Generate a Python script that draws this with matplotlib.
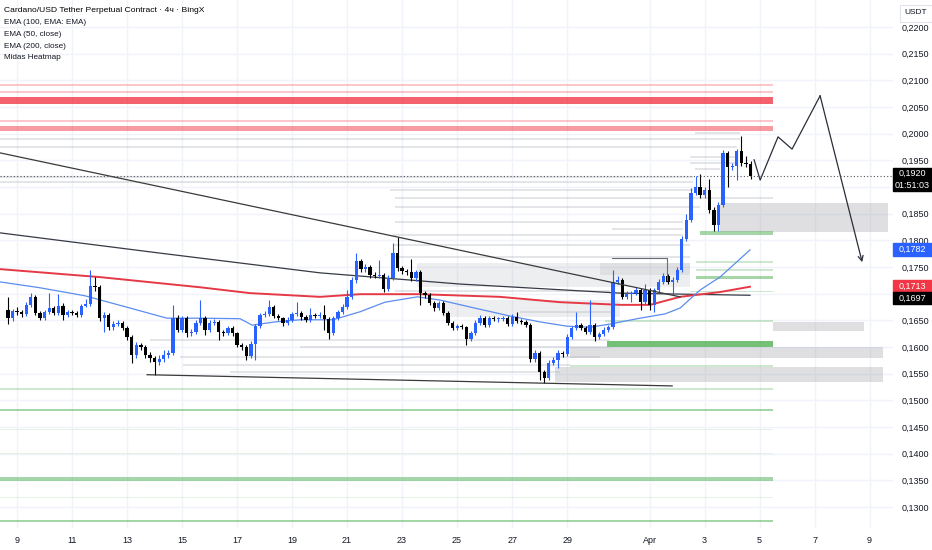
import numpy as np
import matplotlib.pyplot as plt
from matplotlib.patches import Rectangle

plt.rcParams['font.family'] = ['Liberation Sans Narrow', 'Liberation Sans', 'DejaVu Sans']

# ---- ADA/USDT 4h candles (days counted from Mar 9 00:00) ----
first_open = 0.1669
closes = [0.1654, 0.1667, 0.1666, 0.1662, 0.1679, 0.1694, 0.1664, 0.1654, 0.1666, 0.1673,
          0.1664, 0.1677, 0.1660, 0.1666, 0.1664, 0.1660, 0.1677, 0.1681, 0.1714, 0.1713,
          0.1654, 0.1660, 0.1637, 0.1643, 0.1645, 0.1636, 0.1619, 0.1585, 0.1604, 0.1600,
          0.1585, 0.1579, 0.1572, 0.1577, 0.1585, 0.1589, 0.1654, 0.1632, 0.1654, 0.1626,
          0.1628, 0.1645, 0.1654, 0.1632, 0.1645, 0.1647, 0.1628, 0.1626, 0.1636, 0.1626,
          0.1604, 0.1600, 0.1583, 0.1606, 0.1639, 0.1660, 0.1662, 0.1675, 0.1658, 0.1654,
          0.1645, 0.1651, 0.1662, 0.1664, 0.1656, 0.1651, 0.1660, 0.1658, 0.1660, 0.1653,
          0.1626, 0.1654, 0.1666, 0.1675, 0.1694, 0.1726, 0.1761, 0.1746, 0.1750, 0.1735,
          0.1733, 0.1735, 0.1709, 0.1729, 0.1776, 0.1748, 0.1742, 0.1741, 0.1729, 0.1741,
          0.1701, 0.1698, 0.1683, 0.1673, 0.1683, 0.1664, 0.1645, 0.1636, 0.1639, 0.1637,
          0.1615, 0.1626, 0.1645, 0.1654, 0.1641, 0.1654, 0.1653, 0.1653, 0.1654, 0.1643,
          0.1656, 0.1649, 0.1647, 0.1641, 0.1577, 0.1589, 0.1553, 0.1542, 0.1570, 0.1576,
          0.1589, 0.1587, 0.1619, 0.1636, 0.1641, 0.1636, 0.1628, 0.1641, 0.1619, 0.1624,
          0.1632, 0.1637, 0.1722, 0.1726, 0.1694, 0.1699, 0.1701, 0.1707, 0.1684, 0.1707,
          0.1679, 0.1707, 0.1722, 0.1733, 0.1722, 0.1726, 0.1744, 0.1803, 0.1838, 0.1889,
          0.1900, 0.1885, 0.1894, 0.1857, 0.1829, 0.1866, 0.1964, 0.1937, 0.1939, 0.1967,
          0.1945, 0.1943, 0.1920]
highs = [0.1694, 0.1672, 0.1675, 0.1670, 0.1685, 0.1701, 0.1697, 0.1668, 0.1670, 0.1701,
         0.1677, 0.1699, 0.1682, 0.1670, 0.1669, 0.1668, 0.1681, 0.1690, 0.1745, 0.1731,
         0.1716, 0.1665, 0.1663, 0.1648, 0.1650, 0.1649, 0.1640, 0.1622, 0.1610, 0.1607,
         0.1604, 0.1590, 0.1583, 0.1585, 0.1595, 0.1594, 0.1679, 0.1660, 0.1659, 0.1658,
         0.1633, 0.1650, 0.1688, 0.1658, 0.1650, 0.1652, 0.1650, 0.1632, 0.1640, 0.1640,
         0.1628, 0.1608, 0.1603, 0.1611, 0.1643, 0.1664, 0.1667, 0.1688, 0.1679, 0.1662,
         0.1657, 0.1656, 0.1666, 0.1684, 0.1668, 0.1660, 0.1673, 0.1664, 0.1665, 0.1679,
         0.1656, 0.1658, 0.1670, 0.1680, 0.1707, 0.1731, 0.1776, 0.1765, 0.1756, 0.1754,
         0.1740, 0.1763, 0.1739, 0.1735, 0.1795, 0.1806, 0.1752, 0.1746, 0.1765, 0.1745,
         0.1745, 0.1705, 0.1701, 0.1686, 0.1687, 0.1686, 0.1667, 0.1648, 0.1643, 0.1643,
         0.1640, 0.1630, 0.1650, 0.1660, 0.1658, 0.1659, 0.1658, 0.1657, 0.1659, 0.1658,
         0.1661, 0.1665, 0.1652, 0.1650, 0.1645, 0.1594, 0.1592, 0.1557, 0.1575, 0.1581,
         0.1594, 0.1592, 0.1624, 0.1640, 0.1666, 0.1645, 0.1640, 0.1688, 0.1645, 0.1628,
         0.1637, 0.1641, 0.1744, 0.1733, 0.1730, 0.1705, 0.1705, 0.1712, 0.1711, 0.1718,
         0.1711, 0.1711, 0.1727, 0.1738, 0.1737, 0.1731, 0.1750, 0.1808, 0.1850, 0.1899,
         0.1920, 0.1925, 0.1900, 0.1915, 0.1862, 0.1872, 0.1970, 0.1968, 0.1945, 0.1972,
         0.1996, 0.1958, 0.1948]
lows = [0.1644, 0.1649, 0.1660, 0.1656, 0.1658, 0.1675, 0.1660, 0.1650, 0.1650, 0.1662,
        0.1660, 0.1660, 0.1651, 0.1656, 0.1660, 0.1656, 0.1656, 0.1675, 0.1677, 0.1705,
        0.1649, 0.1628, 0.1632, 0.1632, 0.1639, 0.1632, 0.1613, 0.1570, 0.1580, 0.1595,
        0.1580, 0.1572, 0.1547, 0.1566, 0.1572, 0.1580, 0.1585, 0.1628, 0.1628, 0.1619,
        0.1620, 0.1624, 0.1641, 0.1622, 0.1628, 0.1641, 0.1613, 0.1620, 0.1622, 0.1620,
        0.1600, 0.1594, 0.1576, 0.1579, 0.1576, 0.1635, 0.1656, 0.1658, 0.1654, 0.1650,
        0.1640, 0.1641, 0.1647, 0.1658, 0.1651, 0.1647, 0.1647, 0.1654, 0.1654, 0.1632,
        0.1615, 0.1622, 0.1650, 0.1662, 0.1671, 0.1690, 0.1720, 0.1740, 0.1741, 0.1730,
        0.1729, 0.1729, 0.1704, 0.1705, 0.1725, 0.1742, 0.1737, 0.1735, 0.1724, 0.1724,
        0.1679, 0.1692, 0.1679, 0.1668, 0.1669, 0.1660, 0.1641, 0.1632, 0.1632, 0.1633,
        0.1604, 0.1611, 0.1622, 0.1641, 0.1637, 0.1637, 0.1649, 0.1647, 0.1649, 0.1639,
        0.1639, 0.1645, 0.1643, 0.1637, 0.1572, 0.1572, 0.1538, 0.1533, 0.1538, 0.1566,
        0.1560, 0.1582, 0.1583, 0.1615, 0.1632, 0.1632, 0.1624, 0.1624, 0.1611, 0.1615,
        0.1620, 0.1628, 0.1633, 0.1718, 0.1690, 0.1690, 0.1684, 0.1697, 0.1669, 0.1680,
        0.1669, 0.1665, 0.1703, 0.1718, 0.1718, 0.1697, 0.1722, 0.1740, 0.1799, 0.1834,
        0.1885, 0.1880, 0.1880, 0.1852, 0.1817, 0.1817, 0.1862, 0.1900, 0.1932, 0.1914,
        0.1940, 0.1938, 0.1915]
last_candle_day = 26.67      # Apr 4, 16:00
last_price = 0.1920

# ---- indicator lines (day, price) ----
ema50_d = [-0.62, 0.84, 2.47, 4.11, 5.45, 6.65, 8.11, 8.55, 9.38, 10.29, 11.49, 12.47, 13.38,
           14.55, 15.38, 16.47, 17.93, 19.02, 20.00, 20.84, 21.56, 22.65, 23.56, 24.11, 24.84,
           25.56, 26.65]
ema50_p = [0.1722, 0.1711, 0.1696, 0.1673, 0.1654, 0.1654, 0.1653, 0.1641, 0.1647, 0.1651,
           0.1651, 0.1666, 0.1684, 0.1694, 0.1688, 0.1675, 0.1658, 0.1647, 0.1639, 0.1637,
           0.1643, 0.1654, 0.1662, 0.1673, 0.1707, 0.1731, 0.1782]
ema200_d = [-0.62, 3.02, 6.65, 8.47, 11.02, 12.47, 14.65, 17.56, 19.75, 21.93, 23.02, 24.11,
            25.56, 26.65]
ema200_p = [0.1746, 0.1731, 0.1712, 0.1701, 0.1694, 0.1699, 0.1699, 0.1694, 0.1684, 0.1679,
            0.1679, 0.1694, 0.1703, 0.1713]
ema100_d = [-0.62, 5.20, 11.02, 16.11, 21.93, 26.65]
ema100_p = [0.1814, 0.1776, 0.1739, 0.1718, 0.1701, 0.1697]

# drawings
trend_hi_d = [-0.62, 24.11]
trend_hi_p = [0.1964, 0.1694]
trend_lo_d = [4.73, 23.82]
trend_lo_p = [0.1548, 0.1527]
path_d = [26.80, 27.02, 27.67, 28.18, 29.20, 30.73]
path_p = [0.1951, 0.1913, 0.1994, 0.1971, 0.2071, 0.1759]
marker_d = [21.64, 23.64, 23.64]
marker_p = [0.1767, 0.1767, 0.1726]

# ---- Midas heatmap levels ----
heat_end = 27.49
red_lo = [0.2089, 0.2076, 0.2056, 0.2022, 0.2005]
red_hi = [0.2093, 0.2080, 0.2069, 0.2026, 0.2014]
red_strength = ['weak', 'weak', 'strong', 'weak', 'medium']
green_lo = [0.1810, 0.1758, 0.1743, 0.1728, 0.1703, 0.1647, 0.1600, 0.1563,
            0.1520, 0.1480, 0.1444, 0.1400, 0.1349, 0.1316, 0.1272]
green_hi = [0.1818, 0.1762, 0.1746, 0.1733, 0.1705, 0.1651, 0.1611, 0.1566,
            0.1523, 0.1484, 0.1446, 0.1402, 0.1356, 0.1318, 0.1276]
green_start = [24.84, 24.69, 24.69, 24.69, 24.47, 21.38, 21.45, 20.11,
               -1, -1, -1, -1, -1, -1, -1]
green_strength = ['medium', 'weak', 'weak', 'medium', 'weak', 'weak', 'strong', 'weak',
                  'weak', 'medium', 'faint', 'faint', 'medium', 'faint', 'medium']
gray_lo = [0.1816, 0.1630, 0.1579, 0.1534, 0.1713, 0.1735, 0.1656]
gray_hi = [0.1870, 0.1647, 0.1600, 0.1563, 0.1758, 0.1758, 0.1688]
gray_d0 = [25.56, 27.49, 20.11, 19.56, 14.55, 21.20, 15.49]
gray_d1 = [31.67, 30.80, 31.49, 31.49, 24.47, 24.47, 21.93]
gray_strength = ['medium', 'medium', 'medium', 'medium', 'weak', 'weak', 'weak']
thin_p = [0.2001, 0.1990, 0.1975, 0.1956, 0.1945, 0.1934, 0.1919, 0.1909, 0.1894, 0.1879,
          0.1862, 0.1834, 0.1821, 0.1810, 0.1791, 0.1769, 0.1705, 0.1666, 0.1613, 0.1600,
          0.1581, 0.1566, 0.1553]
thin_d0 = [24.65, -1, -1, 24.47, 24.47, 24.65, -1, -1, 13.56, 13.75, 13.75, 13.75, 21.64,
           13.67, 13.67, 13.67, 13.75, 18.29, 4.84, 10.29, 5.93, 6.04, 7.75]
thin_d1 = [26.29, 26.29, 26.18, 26.18, 26.18, 25.56, 24.58, 24.58, 24.58, 27.49, 24.84,
           24.22, 24.22, 24.22, 24.47, 24.47, 21.56, 21.64, 21.56, 21.56, 21.20, 20.11, 19.75]

# axis ticks
date_ticks = [0, 2, 4, 6, 8, 10, 12, 14, 16, 18, 20, 23, 25, 27, 29, 31]
date_labels = ['9', '11', '13', '15', '17', '19', '21', '23', '25', '27', '29',
               'Apr', '3', '5', '7', '9']
price_ticks = [0.1300, 0.1350, 0.1400, 0.1450, 0.1500, 0.1550, 0.1600, 0.1650, 0.1700,
               0.1750, 0.1800, 0.1850, 0.1900, 0.1950, 0.2000, 0.2050, 0.2100, 0.2150, 0.2200]
hidden_ticks = [0.1700, 0.1900]

# price tags on the scale: (label, price top, price bottom, colour)
tag_text = ['0,1782', '0,1713', '0,1697']
tag_top = [0.1795, 0.17256, 0.17031]
tag_bot = [0.17706, 0.17031, 0.16806]
tag_color = ['#2962ff', '#f23645', '#000000']

# ---------------------------------------------------------------
fig = plt.figure(figsize=(9.32, 5.5), dpi=100)
ax = fig.add_axes([0, 22 / 550, 893 / 932, 528 / 550])
ax.set_xlim(-0.618, 31.85)
ax.set_ylim(0.12606, 0.22506)

for s in ax.spines.values():
    s.set_visible(False)
ax.set_axisbelow(True)
ax.grid(True, color='#f0f3fa', lw=1)

ax.set_xticks(date_ticks)
ax.set_xticklabels(date_labels)
ax.yaxis.tick_right()
ax.set_yticks(price_ticks)
ax.set_yticklabels(['' if any(abs(p - h) < 1e-6 for h in hidden_ticks)
                    else f'{p:.4f}'.replace('.', ',') for p in price_ticks])
ax.tick_params(axis='x', length=0, pad=6, labelsize=6.5, labelcolor='#131722')
ax.tick_params(axis='y', length=0, pad=6, labelsize=6.5, labelcolor='#131722')

# heatmap
alpha_of = {'faint': 0.14, 'weak': 0.28, 'medium': 0.5, 'strong': 0.78}
for lo, hi, st in zip(red_lo, red_hi, red_strength):
    ax.add_patch(Rectangle((-1, lo), heat_end + 1, hi - lo, color='#f23645',
                           alpha=alpha_of[st], lw=0, zorder=1))
for lo, hi, d0, st in zip(green_lo, green_hi, green_start, green_strength):
    ax.add_patch(Rectangle((d0, lo), heat_end - d0, hi - lo, color='#4caf50',
                           alpha=alpha_of[st], lw=0, zorder=1))
gray_alpha = {'weak': 0.16, 'medium': 0.3}
for lo, hi, d0, d1, st in zip(gray_lo, gray_hi, gray_d0, gray_d1, gray_strength):
    ax.add_patch(Rectangle((d0, lo), d1 - d0, hi - lo, color='#9598a1',
                           alpha=gray_alpha[st], lw=0, zorder=1))
for p, d0, d1 in zip(thin_p, thin_d0, thin_d1):
    ax.plot([d0, d1], [p, p], color='#b2b5be', lw=1.1, alpha=0.45, zorder=1,
            solid_capstyle='butt')

# indicator lines
ax.plot(ema100_d, ema100_p, color='#363a45', lw=0.9, zorder=3)
ax.plot(ema200_d, ema200_p, color='#e53945', lw=1.4, zorder=3)
ax.plot(ema50_d, ema50_p, color='#5b8def', lw=0.9, zorder=3)

# candles
n = len(closes)
t = np.array([last_candle_day - (n - 1 - i) / 6 for i in range(n)])
c = np.array(closes)
o = np.array([first_open] + closes[:-1])
h = np.array(highs)
l = np.array(lows)
up = c >= o
colors = np.where(up, '#2962ff', '#000000')
ax.vlines(t, l, h, colors=colors, lw=0.8, zorder=4)
body_lo = np.minimum(o, c)
body_h = np.maximum(np.abs(c - o), 0.00015)
ax.bar(t, body_h, width=0.12, bottom=body_lo, color=colors, lw=0, zorder=4)

# drawings
ax.plot(trend_hi_d, trend_hi_p, color='#3a3a3a', lw=0.9, zorder=5)
ax.plot(trend_lo_d, trend_lo_p, color='#3a3a3a', lw=0.9, zorder=5)
ax.plot(marker_d, marker_p, color='#6a6d78', lw=0.8, zorder=5)
ax.plot(path_d[:-1], path_p[:-1], color='#2a2e39', lw=0.9, zorder=5)
ax.annotate('', xy=(path_d[-1], path_p[-1]), xytext=(path_d[-2], path_p[-2]),
            arrowprops=dict(arrowstyle='->', color='#2a2e39', lw=0.9,
                            mutation_scale=9, shrinkA=0, shrinkB=0), zorder=5)
ax.axhline(last_price, color='#50535e', lw=0.8, ls=(0, (1, 2)), zorder=5)

# price scale tags
yt = ax.get_yaxis_transform()
tag_w = 39 / 893
ax.add_patch(Rectangle((1.0, 0.18925), tag_w, 0.00431, transform=yt, color='#000000',
                       clip_on=False, zorder=10))
ax.text(1.0 + tag_w / 2, 0.1925, f'{last_price:.4f}'.replace('.', ','), transform=yt,
        ha='center', va='center', color='white', fontsize=6.5, zorder=11, clip_on=False)
ax.text(1.0 + tag_w / 2, 0.1903, '01:51:03', transform=yt, ha='center', va='center',
        color='white', fontsize=6.5, zorder=11, clip_on=False)
for txt, top, bot, col in zip(tag_text, tag_top, tag_bot, tag_color):
    ax.add_patch(Rectangle((1.0, bot), tag_w, top - bot, transform=yt, color=col,
                           clip_on=False, zorder=10))
    ax.text(1.0 + tag_w / 2, (top + bot) / 2, txt, transform=yt, ha='center',
            va='center', color='white', fontsize=6.5, zorder=11, clip_on=False)

# legend / header
fig.text(4 / 932, 1 - 11 / 550, 'Cardano/USD Tether Perpetual Contract · 4ч · BingX',
         fontsize=6.1, color='#000000', va='center')
for k, s in enumerate(['EMA (100, EMA: EMA)', 'EMA (50, close)', 'EMA (200, close)',
                       'Midas Heatmap']):
    fig.text(4 / 932, 1 - (23 + 11.5 * k) / 550, s, fontsize=5.9, color='#131722',
             va='center')
fig.text(916 / 932, 1 - 13 / 550, 'USDT', fontsize=6, color='#131722', ha='center',
         va='center', bbox=dict(boxstyle='square,pad=0.6', fc='white', ec='#e0e3eb',
                                lw=0.8), zorder=20)

fig.savefig('out.png', dpi=100)
